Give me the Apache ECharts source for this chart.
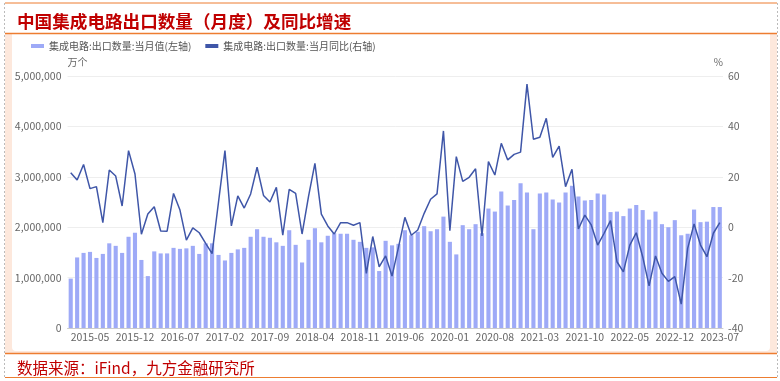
<!DOCTYPE html>
<html>
<head>
<meta charset="utf-8">
<script src="https://cdn.jsdelivr.net/npm/echarts@6/dist/echarts.min.js"></script>
<style>
html,body{margin:0;padding:0;background:#fff;}
#c{width:780px;height:381px;}
</style>
</head>
<body>
<div id="c"></div>
<script>
// Months 2015-02 .. 2023-07
const months = [];
for (let y = 2015; y <= 2023; y++) {
  for (let m = 1; m <= 12; m++) {
    if (y === 2015 && m < 2) continue;
    if (y === 2023 && m > 7) continue;
    months.push(y + '-' + (m < 10 ? '0' + m : m));
  }
}
// 集成电路:出口数量:当月值 (万个)
const exportQty = [
  980000,1400000,1490000,1510000,1390000,1470000,1680000,1630000,1490000,1810000,
  1890000,1350000,1030000,1520000,1480000,1480000,1590000,1570000,1580000,1630000,
  1470000,1680000,1680000,1450000,1340000,1490000,1560000,1590000,1810000,1960000,
  1810000,1790000,1700000,1630000,1940000,1650000,1300000,1750000,1980000,1700000,
  1830000,1880000,1870000,1870000,1750000,1710000,1590000,1600000,1130000,1730000,
  1640000,1670000,1940000,1840000,1910000,2020000,1920000,1960000,2210000,1710000,
  1460000,2040000,1960000,2060000,1880000,2370000,2310000,2710000,2430000,2540000,
  2870000,2690000,1960000,2670000,2690000,2550000,2490000,2690000,2820000,2610000,
  2530000,2540000,2670000,2650000,2300000,2310000,2220000,2370000,2440000,2340000,
  2150000,2310000,2060000,2000000,2140000,1840000,1870000,2350000,2100000,2110000,
  2400000,2400000
];
// 集成电路:出口数量:当月同比 (%)
const exportYoY = [
  21.6,18.7,24.9,15.3,16.1,1.8,22.7,20.3,8.4,30.4,
  21.1,-2.8,5.2,8.1,-1.5,-1.6,13.4,6.8,-5.1,-0.3,
  -2.2,-6.4,-10.5,10.0,30.4,0.5,12.4,7.6,13.2,23.8,
  12.6,10.0,15.8,-3.2,15.0,13.4,-2.7,12.1,25.3,5.2,
  0.5,-2.7,1.8,1.8,0.8,1.8,-18.3,-3.7,-15.7,-11.4,
  -19.4,-8.0,3.9,-3.2,-1.1,5.5,11.1,13.2,38.2,-1.4,
  28.0,18.2,19.8,23.2,-3.5,26.0,20.7,33.3,26.7,28.9,
  29.8,56.8,34.9,35.7,43.2,27.7,32.2,16.1,23.0,-0.7,
  4.8,0.9,-7.1,-2.4,2.6,-13.7,-17.7,-7.1,-2.2,-11.7,
  -23.3,-11.4,-18.3,-21.5,-19.6,-30.5,-8.4,1.3,-7.1,-11.7,
  -2.4,1.8
];
const leftTicks = [0, 1000000, 2000000, 3000000, 4000000, 5000000];
const rightTicks = [-40, -20, 0, 20, 40, 60];

const barName = '集成电路:出口数量:当月值(左轴)';
const lineName = '集成电路:出口数量:当月同比(右轴)';
const FONT = '"Noto Sans CJK SC", "Noto Sans", sans-serif';

const chart = echarts.init(document.getElementById('c'), null, {renderer: 'canvas'});
chart.setOption({
  animation: false,
  backgroundColor: '#fff',
  textStyle: {fontFamily: FONT},
  title: [
    {text: '中国集成电路出口数量（月度）及同比增速', left: 12, top: 8,
     textStyle: {color: '#c00000', fontSize: 17.6, fontWeight: 'bold', fontFamily: FONT}},
    {text: '数据来源：iFind，九方金融研究所', left: 12, top: 355,
     textStyle: {color: '#c00000', fontSize: 15.5, fontWeight: 'normal', fontFamily: FONT}}
  ],
  graphic: [
    {type: 'rect', z: -20, shape: {x: 5, y: 34, width: 772, height: 319}, style: {fill: '#fde8dc'}},
    {type: 'rect', z: -19, shape: {x: 12, y: 34, width: 758, height: 317, r: [0, 0, 4, 4]}, style: {fill: '#ffffff'}},
    {type: 'line', z: -18, shape: {x1: 5, y1: 3, x2: 777, y2: 3}, style: {stroke: '#ed7d31', lineWidth: 1}},
    {type: 'line', z: -18, shape: {x1: 5, y1: 33.5, x2: 777, y2: 33.5}, style: {stroke: '#ed7d31', lineWidth: 1.5}},
    {type: 'line', z: -18, shape: {x1: 5, y1: 353.5, x2: 777, y2: 353.5}, style: {stroke: '#ed7d31', lineWidth: 1.5}},
    {type: 'line', z: -18, shape: {x1: 5, y1: 377.5, x2: 777, y2: 377.5}, style: {stroke: '#ed7d31', lineWidth: 1}},
    {type: 'line', z: -18, shape: {x1: 4.5, y1: 3, x2: 4.5, y2: 378}, style: {stroke: '#bbb', lineWidth: 1, lineDash: [2, 2]}},
    {type: 'line', z: -18, shape: {x1: 777.5, y1: 3, x2: 777.5, y2: 378}, style: {stroke: '#bbb', lineWidth: 1, lineDash: [2, 2]}}
  ],
  legend: {
    left: 26, top: 36, itemGap: 14, itemWidth: 13, itemHeight: 4,
    textStyle: {color: '#555', fontSize: 10, fontFamily: FONT},
    data: [{name: barName, icon: 'rect'}, {name: lineName, icon: 'rect'}]
  },
  grid: {left: 67.5, right: 57, top: 76, bottom: 53},
  xAxis: {
    type: 'category', data: months, boundaryGap: true,
    axisLine: {lineStyle: {color: '#ccc'}},
    axisTick: {show: false},
    axisLabel: {
      color: '#666', fontSize: 10.5, margin: 4, fontFamily: FONT,
      interval: function (i) { return (i - 3) % 7 === 0; }
    }
  },
  yAxis: [
    {
      type: 'value', min: leftTicks[0], max: leftTicks[leftTicks.length - 1], interval: 1000000,
      name: '万个', nameLocation: 'end', nameGap: 9,
      nameTextStyle: {color: '#666', fontSize: 10, align: 'left', fontFamily: FONT},
      axisLine: {show: false}, axisTick: {show: false},
      axisLabel: {color: '#666', fontSize: 10.5, margin: 6, fontFamily: FONT,
        formatter: function (v) { return v.toLocaleString('en-US'); }},
      splitLine: {lineStyle: {color: '#eeeeee'}}
    },
    {
      type: 'value', min: rightTicks[0], max: rightTicks[rightTicks.length - 1], interval: 20,
      name: '%', nameLocation: 'end', nameGap: 9,
      nameTextStyle: {color: '#666', fontSize: 10, align: 'right', fontFamily: FONT},
      axisLine: {show: false}, axisTick: {show: false},
      axisLabel: {color: '#666', fontSize: 10.5, margin: 5, fontFamily: FONT},
      splitLine: {show: false}
    }
  ],
  series: [
    {name: barName, type: 'bar', yAxisIndex: 0, data: exportQty,
     barCategoryGap: '36%', itemStyle: {color: '#9eaaf7'}},
    {name: lineName, type: 'line', yAxisIndex: 1, data: exportYoY,
     symbol: 'none', lineStyle: {color: '#3f56a8', width: 1.5}, itemStyle: {color: '#3f56a8'}}
  ]
});
</script>
</body>
</html>
